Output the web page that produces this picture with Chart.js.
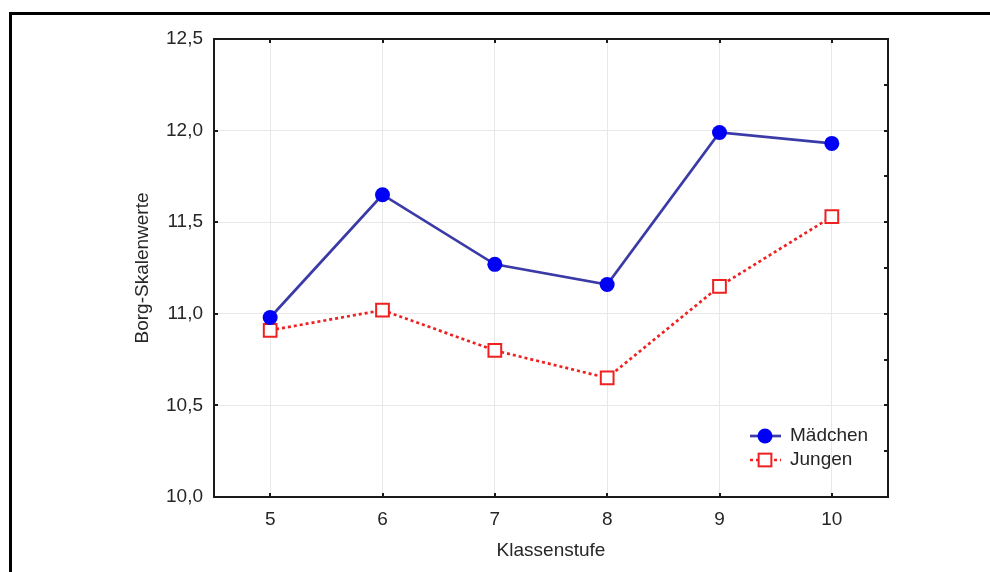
<!DOCTYPE html>
<html>
<head>
<meta charset="utf-8">
<script src="https://cdn.jsdelivr.net/npm/chart.js@4.4.1/dist/chart.umd.min.js"></script>
<style>
  html, body { margin: 0; padding: 0; background: #ffffff; }
  #wrap { width: 990px; height: 572px; position: relative; }
</style>
</head>
<body>
<div id="wrap"><canvas id="c" width="990" height="572"></canvas></div>
<script>
// ---- data ----
const categories = ['5', '6', '7', '8', '9', '10'];
const maedchen = [10.98, 11.65, 11.27, 11.16, 11.99, 11.93];
const jungen = [10.91, 11.02, 10.80, 10.65, 11.15, 11.53];
const seriesNames = ['Mädchen', 'Jungen'];
const yMin = 10.0, yMax = 12.5, yStep = 0.5, yMinorStep = 0.25;
const xTitle = 'Klassenstufe';
const yTitle = 'Borg-Skalenwerte';

const FONT = '"Liberation Sans", Arial, sans-serif';
const TXT = '#262626';
const BLUE_LINE = '#3b3ba8';
const BLUE_PT = '#0000f5';
const RED = '#ee2020';

const fmt = v => Number(v).toFixed(1).replace('.', ',');

const framePlugin = {
  id: 'framePlugin',
  beforeDraw(chart) {
    const ctx = chart.ctx;
    ctx.save();
    ctx.fillStyle = '#ffffff';
    ctx.fillRect(0, 0, chart.width, chart.height);
    ctx.strokeStyle = '#000000';
    ctx.lineWidth = 3;
    ctx.beginPath();
    ctx.moveTo(10.5, chart.height + 5);
    ctx.lineTo(10.5, 13.5);
    ctx.lineTo(chart.width + 5, 13.5);
    ctx.stroke();
    ctx.restore();
  },
  afterDatasetsDraw(chart) {
    const ctx = chart.ctx;
    const a = chart.chartArea;
    const xs = chart.scales.x, ys = chart.scales.y;
    ctx.save();
    ctx.strokeStyle = '#1a1a1a';
    ctx.lineWidth = 2;
    ctx.strokeRect(a.left, a.top, a.right - a.left, a.bottom - a.top);
    ctx.lineWidth = 2;
    ctx.beginPath();
    const tl = 4;
    categories.forEach((c, i) => {
      const px = Math.round(xs.getPixelForValue(i));
      ctx.moveTo(px, a.bottom); ctx.lineTo(px, a.bottom - tl);
      ctx.moveTo(px, a.top); ctx.lineTo(px, a.top + tl);
    });
    for (let v = yMin; v <= yMax + 1e-9; v += yStep) {
      const py = Math.round(ys.getPixelForValue(v));
      ctx.moveTo(a.left, py); ctx.lineTo(a.left + tl, py);
    }
    for (let v = yMin; v <= yMax + 1e-9; v += yMinorStep) {
      const py = Math.round(ys.getPixelForValue(v));
      ctx.moveTo(a.right, py); ctx.lineTo(a.right - tl, py);
    }
    ctx.stroke();

    // legend inside plot
    const ds = chart.data.datasets;
    const lx0 = a.right - 138, lx1 = a.right - 107, mx = a.right - 123, tx = a.right - 98;
    const rows = [a.bottom - 61, a.bottom - 37];
    ctx.font = '19px ' + FONT;
    ctx.textBaseline = 'middle';
    ctx.textAlign = 'left';
    ds.forEach((d, i) => {
      const y = rows[i];
      ctx.save();
      ctx.strokeStyle = d.borderColor;
      ctx.lineWidth = d.borderWidth;
      ctx.setLineDash(d.borderDash || []);
      ctx.beginPath();
      ctx.moveTo(lx0, y); ctx.lineTo(lx1, y);
      ctx.stroke();
      ctx.restore();
      ctx.save();
      if (d.pointStyle === 'circle') {
        ctx.fillStyle = d.pointBackgroundColor;
        ctx.beginPath();
        ctx.arc(mx, y, d.pointRadius, 0, Math.PI * 2);
        ctx.fill();
      } else {
        const s = Math.SQRT1_2 * d.pointRadius;
        ctx.fillStyle = d.pointBackgroundColor;
        ctx.strokeStyle = d.pointBorderColor;
        ctx.lineWidth = d.pointBorderWidth;
        ctx.fillRect(mx - s, y - s, 2 * s, 2 * s);
        ctx.strokeRect(mx - s, y - s, 2 * s, 2 * s);
      }
      ctx.restore();
      ctx.fillStyle = TXT;
      ctx.fillText(d.label, tx, y);
    });
    ctx.restore();
  }
};

new Chart(document.getElementById('c'), {
  type: 'line',
  data: {
    labels: categories,
    datasets: [
      {
        label: seriesNames[0],
        data: maedchen,
        borderColor: BLUE_LINE,
        borderWidth: 2.7,
        pointStyle: 'circle',
        pointRadius: 7.5,
        pointHoverRadius: 7.5,
        pointBackgroundColor: BLUE_PT,
        pointBorderColor: BLUE_PT,
        pointBorderWidth: 0,
        tension: 0,
        fill: false
      },
      {
        label: seriesNames[1],
        data: jungen,
        borderColor: RED,
        borderWidth: 2.7,
        borderDash: [3, 3],
        pointStyle: 'rect',
        pointRadius: 9,
        pointHoverRadius: 9,
        pointBackgroundColor: '#ffffff',
        pointBorderColor: RED,
        pointBorderWidth: 2,
        tension: 0,
        fill: false
      }
    ]
  },
  options: {
    responsive: false,
    animation: false,
    events: [],
    layout: { padding: { left: 0, top: 39, right: 102, bottom: 0 } },
    plugins: {
      legend: { display: false },
      tooltip: { enabled: false },
      title: { display: false }
    },
    scales: {
      x: {
        type: 'category',
        offset: true,
        grid: { display: true, color: '#e8e8e8', lineWidth: 1, drawTicks: false, offset: false },
        border: { display: false },
        ticks: { color: TXT, font: { family: FONT, size: 19 }, padding: 11, maxRotation: 0 },
        title: { display: true, text: xTitle, color: TXT, font: { family: FONT, size: 19 }, padding: { top: 0, bottom: 10 } },
        afterFit: s => { s.height = 75; }
      },
      y: {
        type: 'linear',
        min: yMin,
        max: yMax,
        grid: { display: true, color: '#e8e8e8', lineWidth: 1, drawTicks: false },
        border: { display: false },
        ticks: { stepSize: yStep, color: TXT, font: { family: FONT, size: 19 }, padding: 11, callback: v => fmt(v) },
        title: { display: true, text: yTitle, color: TXT, font: { family: FONT, size: 19 }, padding: { top: 131, bottom: 0 } },
        afterFit: s => { s.width = 214; }
      }
    }
  },
  plugins: [framePlugin]
});
</script>
</body>
</html>
